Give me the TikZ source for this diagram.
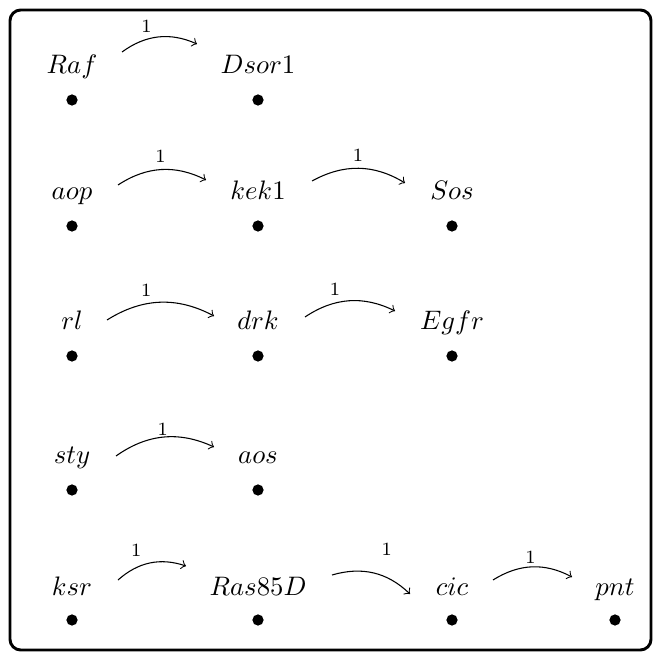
\documentclass[tikz,border=0pt]{standalone}
\usepackage{xcolor}
\usepackage{tikz}
\usetikzlibrary{shapes, arrows, positioning}

\begin{document}
\begin{tikzpicture}[->,>=to,auto,x=0.374pt,y=-0.374pt,
      thin,dot node/.style={circle,fill,inner sep=0pt,minimum size=4.2pt},
      name node/.style={anchor=base,inner sep=0pt}]

    \useasboundingbox (0,0) rectangle (662,659);
    \draw[-,line width=1.1pt,rounded corners=4pt] (10,10) rectangle (651,650);

        \node[dot node] (d1) at (72,100) {};
        \node[dot node] (d2) at (258,100) {};
        \node[dot node] (d3) at (72,226) {};
        \node[dot node] (d4) at (258,226) {};
        \node[dot node] (d5) at (452,226) {};
        \node[dot node] (d6) at (72,356) {};
        \node[dot node] (d7) at (258,356) {};
        \node[dot node] (d8) at (452,356) {};
        \node[dot node] (d9) at (72,490) {};
        \node[dot node] (d10) at (258,490) {};
        \node[dot node] (d11) at (72,620) {};
        \node[dot node] (d12) at (258,620) {};
        \node[dot node] (d13) at (452,620) {};
        \node[dot node] (d14) at (615,620) {};

        \node[name node] (raf) at (72,74) {$Raf$};
        \node[name node] (dsor) at (258,74) {$Dsor1$};
        \node[name node] (aop) at (72,200) {$aop$};
        \node[name node] (kek) at (258,200) {$kek1$};
        \node[name node] (sos) at (452,200) {$Sos$};
        \node[name node] (rl) at (72,330) {$rl$};
        \node[name node] (drk) at (258,330) {$drk$};
        \node[name node] (egfr) at (452,330) {$Egfr$};
        \node[name node] (sty) at (72,463) {$sty$};
        \node[name node] (aos) at (258,463) {$aos$};
        \node[name node] (ksr) at (72,595) {$ksr$};
        \node[name node] (ras) at (258,595) {$Ras85D$};
        \node[name node] (cic) at (452,595) {$cic$};
        \node[name node] (pnt) at (615,595) {$pnt$};

        \path[every node/.style={font=\scriptsize,inner sep=2.5pt}]
            ([shift={(50,-22)}]raf.base) edge[bend left=30] node [pos=.34,above] {1} ([shift={(-61,-30)}]dsor.base)
            ([shift={(46,-15)}]aop.base) edge[bend left=30] node [pos=.49,above] {1} ([shift={(-52,-20)}]kek.base)
            ([shift={(54,-19)}]kek.base) edge[bend left=30] node [pos=.49,above] {1} ([shift={(-47,-17)}]sos.base)
            ([shift={(35,-10)}]rl.base) edge[bend left=30] node [pos=.37,above] {1} ([shift={(-44,-14)}]drk.base)
            ([shift={(47,-13)}]drk.base) edge[bend left=30] node [pos=.34,above] {1} ([shift={(-57,-19)}]egfr.base)
            ([shift={(44,-7)}]sty.base) edge[bend left=30] node [pos=.49,above=-2pt] {1} ([shift={(-44,-16)}]aos.base)
            ([shift={(46,-15)}]ksr.base) edge[bend left=30] node [pos=.29,above=1.5pt] {1} ([shift={(-72,-29)}]ras.base)
            ([shift={(74,-20)}]ras.base) edge[bend left=30] node [pos=.67,above=5.5pt] {1} ([shift={(-42,-1)}]cic.base)
            ([shift={(41,-15)}]cic.base) edge[bend left=30] node [pos=.48,above=-1.5pt] {1} ([shift={(-43,-18)}]pnt.base)
        ;
    \end{tikzpicture}
\end{document}
